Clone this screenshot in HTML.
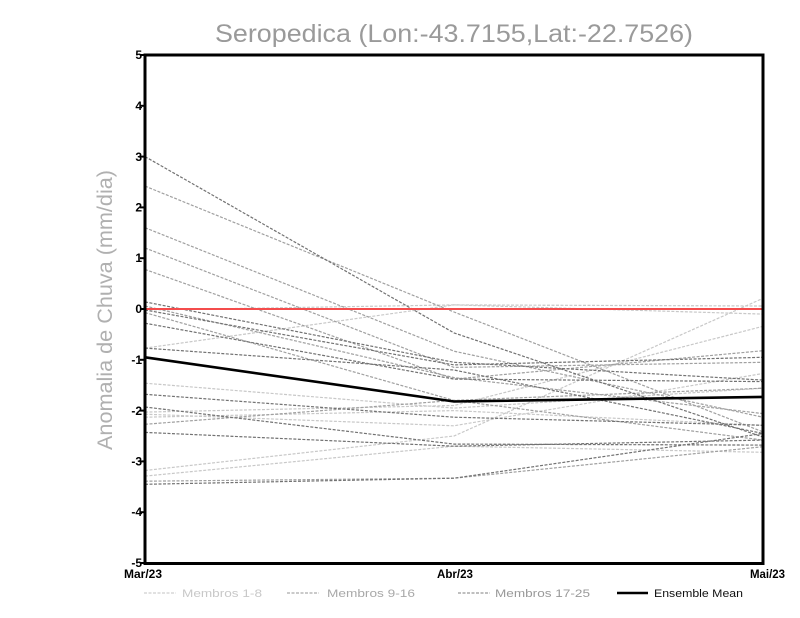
<!DOCTYPE html>
<html>
<head>
<meta charset="utf-8">
<style>
html,body{margin:0;padding:0;background:#fff;}
svg{display:block;}
text{font-family:"Liberation Sans",sans-serif;}
</style>
</head>
<body>
<svg width="800" height="618" viewBox="0 0 800 618" xmlns="http://www.w3.org/2000/svg">
<rect width="800" height="618" fill="#fff"/>

<!-- Title -->
<text x="215" y="42" font-size="25" fill="#9a9a9a" textLength="478" lengthAdjust="spacingAndGlyphs">Seropedica (Lon:-43.7155,Lat:-22.7526)</text>

<!-- Y label -->
<text transform="translate(112,310) rotate(-90)" text-anchor="middle" font-size="21" fill="#b0b0b0" textLength="280" lengthAdjust="spacingAndGlyphs">Anomalia de Chuva (mm/dia)</text>

<!-- Members 1-8 (light) -->
<g fill="none" stroke="#c8c8c8" stroke-width="1.2" stroke-dasharray="3,1.5">
<polyline points="145,348.1 454,304.9 763,306.0"/>
<polyline points="145,383.2 454,408.1 763,388.2"/>
<polyline points="145,412.1 454,405.5 763,326.3"/>
<polyline points="145,414.2 454,425.8 763,373.5"/>
<polyline points="145,417.2 454,410.6 763,425.3"/>
<polyline points="145,470.5 454,436.0 763,298.3"/>
<polyline points="145,476.1 454,446.2 763,452.3"/>
<polyline points="145,310.0 454,304.9 763,314.1"/>
</g>

<!-- Members 9-16 (medium) -->
<g fill="none" stroke="#a0a0a0" stroke-width="1.2" stroke-dasharray="3,1.5">
<polyline points="145,186.1 454,312.0 763,431.9"/>
<polyline points="145,227.7 454,351.2 763,417.2"/>
<polyline points="145,248.0 454,367.4 763,362.3"/>
<polyline points="145,269.4 454,379.1 763,350.7"/>
<polyline points="145,306.0 454,377.6 763,413.6"/>
<polyline points="145,312.6 454,400.4 763,388.2"/>
<polyline points="145,424.3 454,400.4 763,440.1"/>
<polyline points="145,481.2 454,478.2 763,446.7"/>
</g>

<!-- Members 17-25 (dark) -->
<g fill="none" stroke="#727272" stroke-width="1.2" stroke-dasharray="3,1.5">
<polyline points="145,156.6 454,332.9 763,437.0"/>
<polyline points="145,301.9 454,362.3 763,380.1"/>
<polyline points="145,310.0 454,364.9 763,357.3"/>
<polyline points="145,323.2 454,379.1 763,381.6"/>
<polyline points="145,348.1 454,370.0 763,433.5"/>
<polyline points="145,394.3 454,417.2 763,425.3"/>
<polyline points="145,407.0 454,444.1 763,445.1"/>
<polyline points="145,432.4 454,446.2 763,440.1"/>
<polyline points="145,484.3 454,478.2 763,433.5"/>
</g>

<!-- Zero line -->
<line x1="145" y1="309" x2="763" y2="309" stroke="#f44c4c" stroke-width="2"/>

<!-- Ensemble mean -->
<polyline points="145,357.3 454,401.5 763,396.9" fill="none" stroke="#000" stroke-width="2.6"/>

<!-- Frame -->
<rect x="145" y="55" width="618" height="508.5" fill="none" stroke="#000" stroke-width="3"/>

<!-- Y ticks -->
<g stroke="#000" stroke-width="2">
<line x1="140" y1="55" x2="145" y2="55"/>
<line x1="140" y1="105.8" x2="145" y2="105.8"/>
<line x1="140" y1="156.6" x2="145" y2="156.6"/>
<line x1="140" y1="207.4" x2="145" y2="207.4"/>
<line x1="140" y1="258.2" x2="145" y2="258.2"/>
<line x1="140" y1="309" x2="145" y2="309"/>
<line x1="140" y1="359.8" x2="145" y2="359.8"/>
<line x1="140" y1="410.6" x2="145" y2="410.6"/>
<line x1="140" y1="461.4" x2="145" y2="461.4"/>
<line x1="140" y1="512.2" x2="145" y2="512.2"/>
<line x1="140" y1="563" x2="145" y2="563"/>
</g>
<g font-size="12" font-weight="bold" fill="#000" text-anchor="end">
<text x="142" y="59">5</text>
<text x="142" y="110">4</text>
<text x="142" y="161">3</text>
<text x="142" y="211.5">2</text>
<text x="142" y="262">1</text>
<text x="142" y="313">0</text>
<text x="142" y="364">-1</text>
<text x="142" y="415">-2</text>
<text x="142" y="465.5">-3</text>
<text x="142" y="516">-4</text>
<text x="142" y="567">-5</text>
</g>

<!-- X labels -->
<g font-size="12" font-weight="bold" fill="#000">
<text x="124" y="578" textLength="38" lengthAdjust="spacingAndGlyphs">Mar/23</text>
<text x="437" y="578" textLength="36" lengthAdjust="spacingAndGlyphs">Abr/23</text>
<text x="750" y="578" textLength="35" lengthAdjust="spacingAndGlyphs">Mai/23</text>
</g>

<!-- Legend -->
<g stroke-width="1.2" stroke-dasharray="3,1.5" fill="none">
<line x1="144" y1="593" x2="176" y2="593" stroke="#cfcfcf"/>
<line x1="287" y1="593" x2="319" y2="593" stroke="#aaaaaa"/>
<line x1="458" y1="593" x2="490" y2="593" stroke="#999999"/>
</g>
<line x1="617" y1="593" x2="648" y2="593" stroke="#000" stroke-width="2.6"/>
<g font-size="11">
<text x="182" y="597" fill="#c8c8c8" textLength="80" lengthAdjust="spacingAndGlyphs">Membros 1-8</text>
<text x="327" y="597" fill="#a8a8a8" textLength="88" lengthAdjust="spacingAndGlyphs">Membros 9-16</text>
<text x="495" y="597" fill="#999999" textLength="95" lengthAdjust="spacingAndGlyphs">Membros 17-25</text>
<text x="654" y="597" fill="#111" textLength="89" lengthAdjust="spacingAndGlyphs">Ensemble Mean</text>
</g>
</svg>
</body>
</html>
